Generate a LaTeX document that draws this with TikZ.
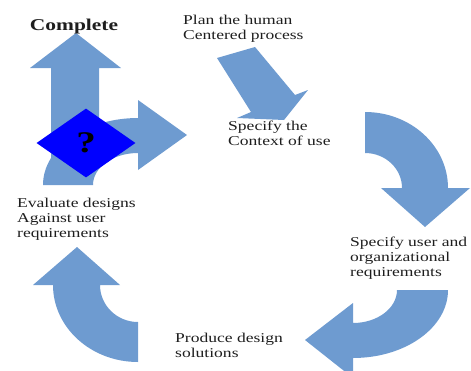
\documentclass[tikz,border=0pt]{standalone}
\usepackage{fontspec}
\setmainfont{Liberation Serif}[FakeStretch=1.3]
\usetikzlibrary{shapes.geometric}

\definecolor{flechebleu}{RGB}{110,155,208}
\definecolor{texte}{RGB}{30,30,30}

\begin{document}
\begin{tikzpicture}[x=1pt, y=-1pt,
  fleche/.style={fill=flechebleu},
  etape/.style={font=\fontsize{13.5}{15}\selectfont, text=texte, align=left, inner sep=0pt, anchor=north west}]

  % Cadre
  \useasboundingbox (0,0) rectangle (471,370);
  \clip (0,0) rectangle (471,370);

  % Fleche verticale (Complete)
  \fill[fleche] (51,160) -- (51,68) -- (30,68) -- (76,33) -- (121,68) -- (99,68) -- (99,160) -- cycle;

  % Fleche courbe haut gauche
  \fill[fleche] (43,185) arc[start angle=180, end angle=270, x radius=95, y radius=67]
    -- (138,100) -- (187,135) -- (138,170) -- (138,153)
    arc[start angle=270, end angle=180, x radius=45, y radius=32] -- cycle;

  % Losange de decision
  \node[diamond, fill=blue, minimum width=99pt, minimum height=69pt, inner sep=0pt,
    font=\fontsize{30}{30}\bfseries\selectfont] (quest) at (86,143) {?};

  % Fleche diagonale
  \fill[fleche] (217,58) -- (251,112) -- (237,118) -- (284,120) -- (308,90) -- (295,95) -- (255,47) -- cycle;

  % Fleche courbe haut droite
  \fill[fleche] (365,112) arc[start angle=-90, end angle=0, x radius=83, y radius=76]
    -- (470,188) -- (425,227) -- (381,188) -- (402,188)
    arc[start angle=0, end angle=-90, x radius=37, y radius=35] -- cycle;

  % Fleche courbe bas droite
  \fill[fleche] (448,290) arc[start angle=0, end angle=90, x radius=95, y radius=68]
    -- (353,378) -- (305,340) -- (353,303) -- (353,323)
    arc[start angle=90, end angle=0, x radius=44, y radius=33] -- cycle;

  % Fleche courbe bas gauche
  \fill[fleche] (138,362) arc[start angle=90, end angle=180, x radius=85, y radius=77]
    -- (33,285) -- (77,247) -- (120,285) -- (100,285)
    arc[start angle=180, end angle=90, x radius=38, y radius=37] -- cycle;

  % Etapes (coin haut gauche du texte)
  \node[etape, font=\fontsize{16.5}{18}\bfseries\selectfont, anchor=base] (complete) at (74,30) {Complete};
  \node[etape] (plan) at (183,15) {Plan the human\\Centered process};
  \node[etape] (contexte) at (228,121) {Specify the\\Context of use};
  \node[etape] (exigences) at (350,237) {Specify user and\\organizational\\requirements};
  \node[etape] (solutions) at (175,333) {Produce design\\solutions};
  \node[etape] (evaluer) at (17,198) {Evaluate designs\\Against user\\requirements};

\end{tikzpicture}
\end{document}
